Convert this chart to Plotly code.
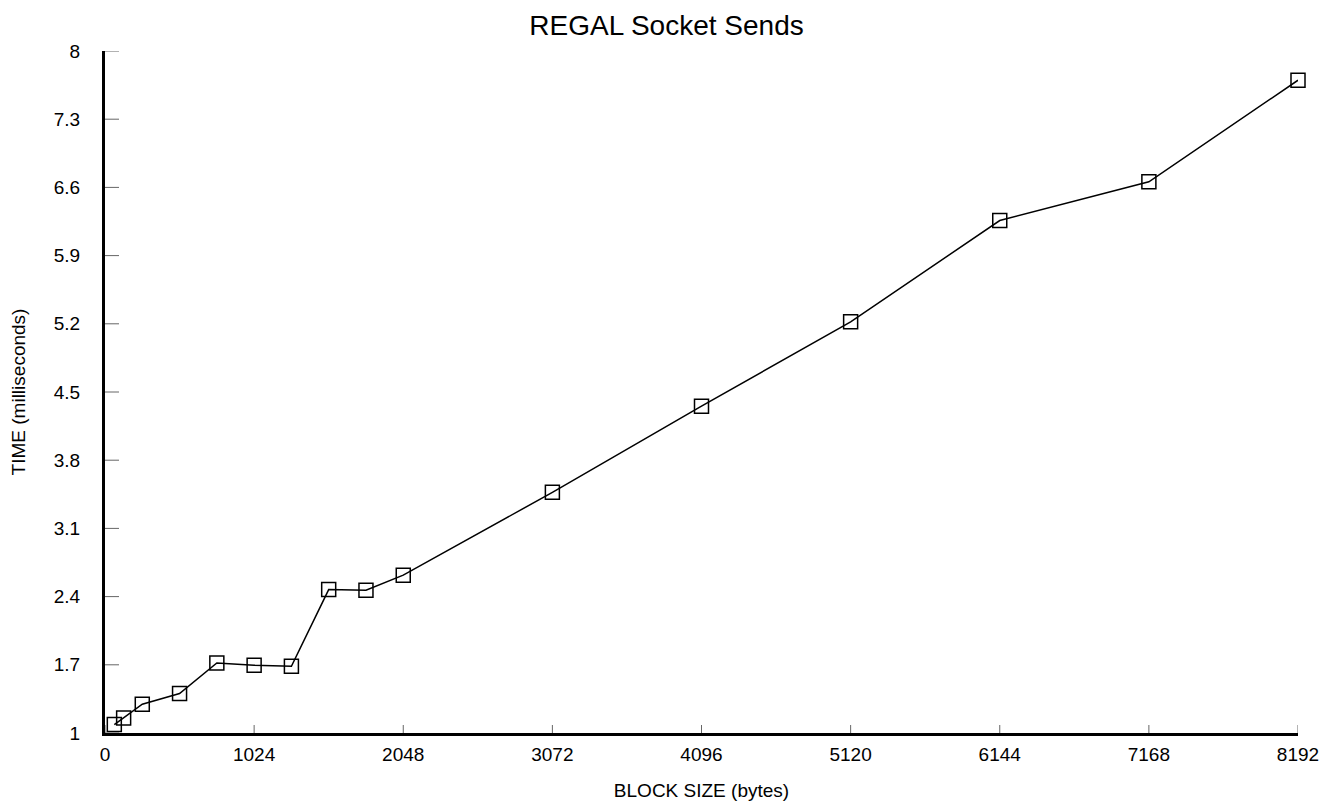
import plotly.graph_objects as go

block_size = [64, 128, 256, 512, 768, 1024, 1280, 1536, 1792, 2048, 3072, 4096, 5120, 6144, 7168, 8192]
time_ms = [1.086, 1.154, 1.295, 1.405, 1.719, 1.695, 1.685, 2.472, 2.465, 2.62, 3.47, 4.355, 5.22, 6.26, 6.657, 7.70]

x_ticks = [0, 1024, 2048, 3072, 4096, 5120, 6144, 7168, 8192]
y_ticks = [1, 1.7, 2.4, 3.1, 3.8, 4.5, 5.2, 5.9, 6.6, 7.3, 8]
y_tick_labels = ["1", "1.7", "2.4", "3.1", "3.8", "4.5", "5.2", "5.9", "6.6", "7.3", "8"]

FONT = "Liberation Sans, Arial, sans-serif"
TICK_COLOR = "#666666"

fig = go.Figure()
fig.add_trace(go.Scatter(
    x=block_size, y=time_ms, mode="lines+markers",
    line=dict(color="black", width=1.5),
    marker=dict(symbol="square-open", size=14, color="black", line=dict(width=1.5, color="black")),
    cliponaxis=False, showlegend=False,
))

# inward-pointing tick marks, placed at the tick values through the axes
shapes = []
for v in x_ticks:
    shapes.append(dict(type="line", xref="x", yref="y domain", x0=v, x1=v,
                       ysizemode="pixel", yanchor=0, y0=0, y1=8,
                       line=dict(color=TICK_COLOR, width=1)))
for v in y_ticks:
    shapes.append(dict(type="line", xref="x domain", yref="y", y0=v, y1=v,
                       xsizemode="pixel", xanchor=0, x0=0, x1=14,
                       line=dict(color=TICK_COLOR, width=1)))

fig.update_layout(
    template="none",
    width=1333, height=804,
    paper_bgcolor="white", plot_bgcolor="white",
    margin=dict(l=105, r=35, t=51, b=71),
    font=dict(family=FONT, color="black", size=19),
    title=dict(text="REGAL Socket Sends", x=0.5, xanchor="center", y=0.969, yanchor="middle",
               font=dict(size=28, family=FONT, color="black")),
    shapes=shapes,
)
fig.update_xaxes(
    range=[0, 8192], tickmode="array", tickvals=x_ticks, ticktext=[str(v) for v in x_ticks],
    ticks="", showline=True, linecolor="black", linewidth=3, showgrid=False, zeroline=False,
    tickfont=dict(size=19), ticklabelstandoff=2,
    title=dict(text="BLOCK SIZE (bytes)", font=dict(size=19), standoff=20),
)
fig.update_yaxes(
    range=[1, 8], tickmode="array", tickvals=y_ticks, ticktext=y_tick_labels,
    ticks="", showline=True, linecolor="black", linewidth=3, showgrid=False, zeroline=False,
    tickfont=dict(size=19), ticklabelstandoff=18,
    title=dict(text="TIME (milliseconds)", font=dict(size=19), standoff=24),
)

fig.write_html("out.html", config={"displayModeBar": False},
               post_script="document.body.style.margin='0';")
